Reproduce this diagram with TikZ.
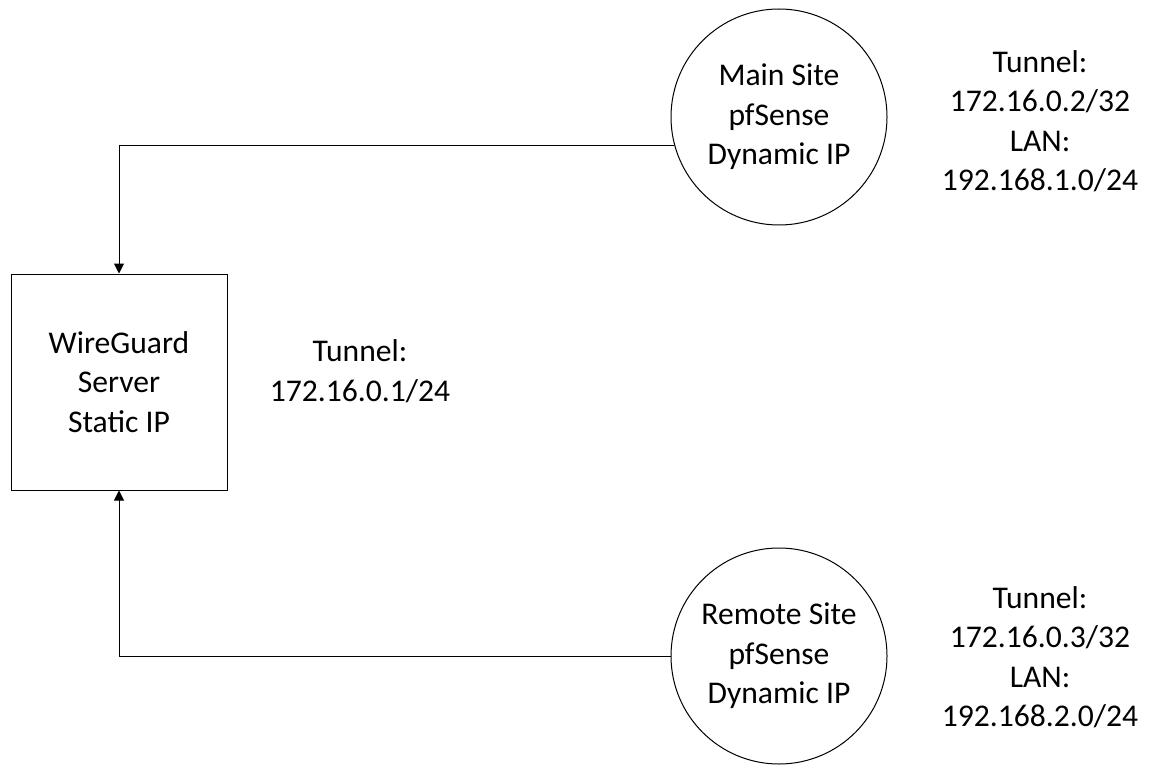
\documentclass[tikz,border=0pt]{standalone}
\usepackage{fontspec}
\setmainfont{Carlito}
\usetikzlibrary{arrows.meta,positioning,calc}
\definecolor{wgline}{HTML}{000000}
\tikzset{
  site/.style={draw=wgline, circle, line width=0.5pt, minimum size=108pt,
    inner sep=0pt, align=center},
  srv/.style={draw=wgline, line width=0.5pt, minimum width=108pt,
    minimum height=108pt, inner sep=0pt, align=center},
  addr/.style={align=center, inner sep=0pt},
  arr/.style={-{Triangle[length=5pt,width=5pt]}, line width=0.5pt, wgline},
}
\begin{document}
\begin{tikzpicture}[x=0.5pt, y=-0.5pt, font=\fontsize{15.8}{19.75}\selectfont]
    \useasboundingbox (0,0) rectangle (1166,775);
    \node[srv] (server) at (119,382) {WireGuard\\Server\\Static IP};
    \node[addr] (srvaddr) at (360,371) {Tunnel:\\172.16.0.1/24};
    \node[site] (main) at (779,117) {Main Site\\pfSense\\Dynamic IP};
    \node[addr] (mainaddr) at (1040,121) {Tunnel:\\172.16.0.2/32\\LAN:\\192.168.1.0/24};
    \node[site] (remote) at (779,656) {Remote Site\\pfSense\\Dynamic IP};
    \node[addr] (remoteaddr) at (1040,657) {Tunnel:\\172.16.0.3/32\\LAN:\\192.168.2.0/24};
    \draw[arr] (main.195) -| (server.north);
    \draw[arr] (remote.west) -| (server.south);
  \end{tikzpicture}
\end{document}
